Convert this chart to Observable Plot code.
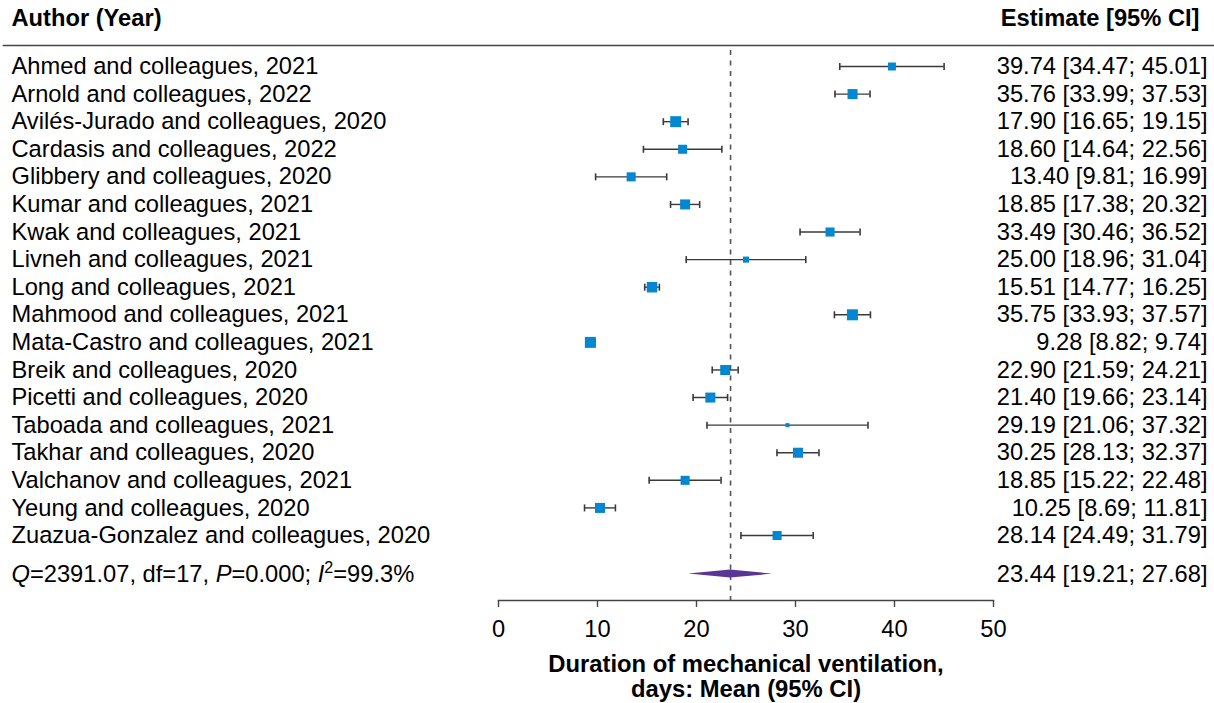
<!DOCTYPE html>
<html><head><meta charset="utf-8">
<script src="https://cdn.jsdelivr.net/npm/d3@7"></script>
<script src="https://cdn.jsdelivr.net/npm/@observablehq/plot@0.6"></script>
<style>
html,body{margin:0;padding:0;background:#fff;}
</style></head><body><div id="chart"></div>
<script>
// ---- data ----
const studies = [
  "Ahmed and colleagues, 2021",
  "Arnold and colleagues, 2022",
  "Avilés-Jurado and colleagues, 2020",
  "Cardasis and colleagues, 2022",
  "Glibbery and colleagues, 2020",
  "Kumar and colleagues, 2021",
  "Kwak and colleagues, 2021",
  "Livneh and colleagues, 2021",
  "Long and colleagues, 2021",
  "Mahmood and colleagues, 2021",
  "Mata-Castro and colleagues, 2021",
  "Breik and colleagues, 2020",
  "Picetti and colleagues, 2020",
  "Taboada and colleagues, 2021",
  "Takhar and colleagues, 2020",
  "Valchanov and colleagues, 2021",
  "Yeung and colleagues, 2020",
  "Zuazua-Gonzalez and colleagues, 2020"
];
const estimates = [39.74, 35.76, 17.90, 18.60, 13.40, 18.85, 33.49, 25.00, 15.51, 35.75, 9.28, 22.90, 21.40, 29.19, 30.25, 18.85, 10.25, 28.14];
const lowers    = [34.47, 33.99, 16.65, 14.64,  9.81, 17.38, 30.46, 18.96, 14.77, 33.93, 8.82, 21.59, 19.66, 21.06, 28.13, 15.22,  8.69, 24.49];
const uppers    = [45.01, 37.53, 19.15, 22.56, 16.99, 20.32, 36.52, 31.04, 16.25, 37.57, 9.74, 24.21, 23.14, 37.32, 32.37, 22.48, 11.81, 31.79];
// relative study weights (estimated from square areas)
const weights   = [3.1, 4.9, 5.9, 4.0, 4.0, 4.9, 4.0, 1.8, 5.4, 5.9, 5.9, 4.9, 4.9, 0.8, 4.9, 4.0, 4.9, 4.0];
const pooledEstimate = 23.44, pooledLower = 19.21, pooledUpper = 27.68;
const hetQ = "2391.07", hetDf = "17", hetP = "0.000", hetI2 = "99.3";
const xTicks = [0, 10, 20, 30, 40, 50];
const headerLeft = "Author (Year)";
const headerRight = "Estimate [95% CI]";
const xLabel = "Duration of mechanical ventilation,\ndays: Mean (95% CI)";

// ---- build table ----
const fmt = v => v.toFixed(2);
const rows = studies.map((s, i) => ({
  study: s, row: i, est: estimates[i], lo: lowers[i], hi: uppers[i], w: weights[i],
  label: `${fmt(estimates[i])} [${fmt(lowers[i])}; ${fmt(uppers[i])}]`
}));
const summaryRow = studies.length + 0.4;
const rowTop = 66, rowBottom = 535;
const pxPerRow = (rowBottom - rowTop) / (studies.length - 1);
const diamondHalf = 4 / pxPerRow;
const diamond = [
  {x: pooledLower, y1: summaryRow, y2: summaryRow},
  {x: pooledEstimate, y1: summaryRow - diamondHalf, y2: summaryRow + diamondHalf},
  {x: pooledUpper, y1: summaryRow, y2: summaryRow}
];
const summary = [{row: summaryRow,
  label: `${fmt(pooledEstimate)} [${fmt(pooledLower)}; ${fmt(pooledUpper)}]`,
  het: `Q=${hetQ}, df=${hetDf}, P=${hetP}; I2=${hetI2}%`}];

const W = 1214, H = 703;
const mL = 498, mR = 221, mT = 50, mB = 103;
const leftTextX = 11, rightTextX = 1207;
const FONT = "Liberation Sans, Arial, Helvetica, sans-serif";
const FS = 23.7;
const capTick = {draw(ctx, size) { ctx.moveTo(0, -3.5); ctx.lineTo(0, 3.5); }};

const plot = Plot.plot({
  width: W, height: H,
  marginLeft: mL, marginRight: mR, marginTop: mT, marginBottom: mB,
  style: {fontFamily: FONT, fontSize: FS + "px", background: "white", color: "black", overflow: "visible"},
  x: {domain: [0, 50], axis: null},
  y: {type: "linear", domain: [0, studies.length - 1], range: [rowTop, rowBottom], axis: null},
  r: {type: "sqrt", domain: [0, d3.max(weights)], range: [0, 11 / Math.sqrt(Math.PI)]},
  marks: [
    // header rule
    Plot.frame({anchor: "top", stroke: "#444", strokeWidth: 1.6, insetLeft: -(mL - 3), insetRight: -mR, insetTop: -5}),
    // headers
    Plot.text([headerLeft], {text: d => d, frameAnchor: "top-left", dx: -(mL - leftTextX), dy: -32, textAnchor: "start", lineAnchor: "middle", fontWeight: "bold", fontSize: FS, fill: "black"}),
    Plot.text([headerRight], {text: d => d, frameAnchor: "top-right", dx: 1199 - (W - mR), dy: -32, textAnchor: "end", lineAnchor: "middle", fontWeight: "bold", fontSize: FS, fill: "black"}),
    // pooled estimate reference line
    Plot.ruleX([pooledEstimate], {stroke: "#555", strokeWidth: 1.6, strokeDasharray: "5,5.5"}),
    // x axis
    Plot.frame({anchor: "bottom", stroke: "#444", strokeWidth: 1.4}),
    Plot.axisX({ticks: xTicks, tickSize: 7, tickPadding: 13, stroke: "#444", strokeWidth: 1.4, fontSize: FS, fill: "black", label: null, tickFormat: d => String(d)}),
    Plot.text([xLabel], {text: d => d, frameAnchor: "bottom", dy: 75.5, lineAnchor: "middle", lineHeight: 1.05, fontWeight: "bold", fontSize: 23.8, fill: "black"}),
    // CIs
    Plot.ruleY(rows, {y: "row", x1: "lo", x2: "hi", stroke: "#3a3a3a", strokeWidth: 1.4}),
    Plot.dot(rows, {x: "lo", y: "row", symbol: capTick, r: 3, stroke: "#3a3a3a", strokeWidth: 1.6}),
    Plot.dot(rows, {x: "hi", y: "row", symbol: capTick, r: 3, stroke: "#3a3a3a", strokeWidth: 1.6}),
    // study squares
    Plot.dot(rows, {x: "est", y: "row", r: "w", symbol: "square", fill: "#0387d0", stroke: "none"}),
    // summary diamond
    Plot.areaY(diamond, {x: "x", y1: "y1", y2: "y2", fill: "#5b3596", stroke: "none", curve: "linear"}),
    // study labels
    Plot.text(rows, {y: "row", text: "study", frameAnchor: "left", dx: -(mL - leftTextX), textAnchor: "start", fontSize: FS, fill: "black"}),
    Plot.text(rows, {y: "row", text: "label", frameAnchor: "right", dx: rightTextX - (W - mR), textAnchor: "end", fontSize: FS, fill: "black"}),
    Plot.text(summary, {y: "row", text: "label", frameAnchor: "right", dx: rightTextX - (W - mR), textAnchor: "end", fontSize: FS, fill: "black"}),
    Plot.text(summary, {y: "row", text: "het", frameAnchor: "left", dx: -(mL - leftTextX), textAnchor: "start", fontSize: FS, fill: "black", className: "hetero"})
  ]
});
document.getElementById("chart").appendChild(plot);

// italic / superscript formatting for heterogeneity statistics
const t = plot.querySelector(".hetero text");
if (t) {
  t.textContent = "";
  const parts = [
    ["Q", "italic"], [`=${hetQ}, df=${hetDf}, `], ["P", "italic"], [`=${hetP}; `],
    ["I", "italic"], ["2", "sup"], [`=${hetI2}%`, "down"]
  ];
  const NS = "http://www.w3.org/2000/svg";
  for (const [s, kind] of parts) {
    const ts = document.createElementNS(NS, "tspan");
    ts.textContent = s;
    if (kind === "italic") ts.setAttribute("font-style", "italic");
    if (kind === "sup") { ts.setAttribute("dy", "-9"); ts.setAttribute("font-size", "16"); }
    if (kind === "down") ts.setAttribute("dy", "9");
    t.appendChild(ts);
  }
}
</script></body></html>
